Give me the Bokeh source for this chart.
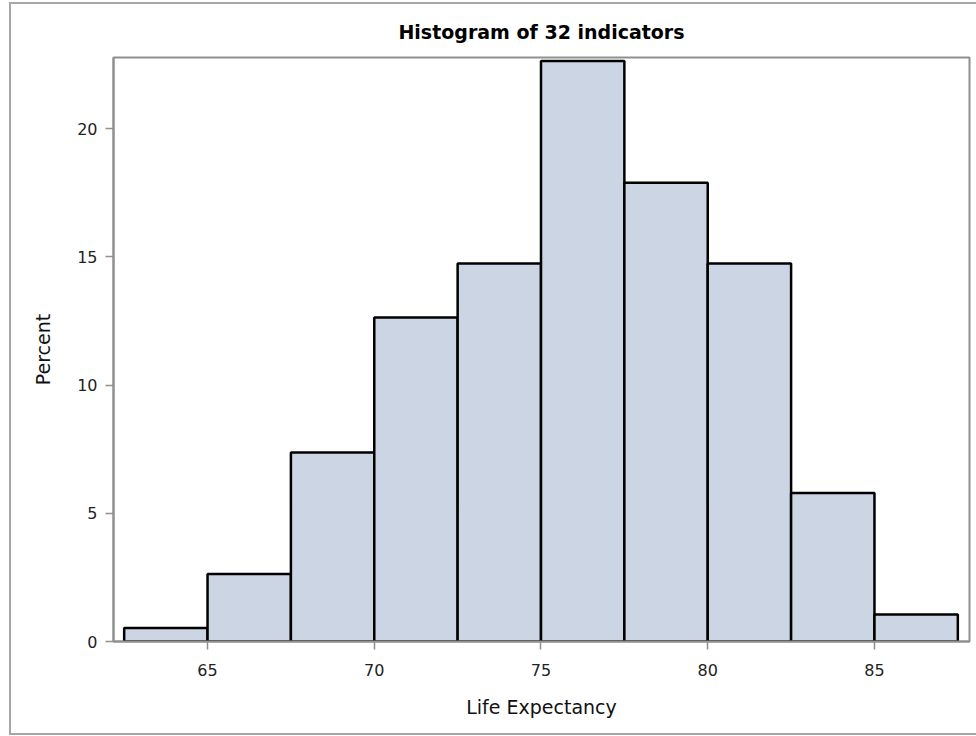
from bokeh.plotting import figure
from bokeh.models import FixedTicker, ColumnDataSource
from bokeh.embed import file_html
from bokeh.resources import INLINE

# Data: histogram of life expectancy (percent per 2.5-year bin)
bin_left = [62.5, 65.0, 67.5, 70.0, 72.5, 75.0, 77.5, 80.0, 82.5, 85.0]
bin_width = 2.5
percent = [0.53, 2.63, 7.37, 12.63, 14.74, 22.63, 17.89, 14.74, 5.79, 1.05]
x_ticks = [65, 70, 75, 80, 85]
y_ticks = [0, 5, 10, 15, 20]
title_text = "Histogram of 32 indicators"
x_label = "Life Expectancy"
y_label = "Percent"

src = ColumnDataSource(dict(
    left=bin_left,
    right=[b + bin_width for b in bin_left],
    top=percent,
    bottom=[0] * len(percent),
))

FONT = "DejaVu Sans"
GRAY = "#8f8f8f"
FRAME = "#a6a6a6"

p = figure(width=976, height=736, output_backend="svg", toolbar_location=None,
           x_range=(62.18, 87.85), y_range=(0, 22.77),
           min_border_left=113, min_border_right=7, min_border_top=57,
           min_border_bottom=95, title=title_text)

p.quad(left="left", right="right", top="top", bottom="bottom", source=src,
       fill_color="#CBD5E4", line_color="black", line_width=2.5)

p.title.align = "center"
p.title.text_font = FONT
p.title.text_font_size = "19px"
p.title.text_font_style = "bold"
p.title.text_color = "black"
p.title.standoff = 30
p.title.offset = -6

p.xgrid.visible = False
p.ygrid.visible = False
p.outline_line_color = GRAY
p.outline_line_width = 2
p.background_fill_color = "white"
p.border_fill_color = None
p.styles = {
    "background-color": "white",
    "background-image": ("linear-gradient(%s,%s), linear-gradient(%s,%s), "
                         "linear-gradient(%s,%s)") % ((FRAME,) * 6),
    "background-position": "9px 2px, 9px 2px, 9px 733px",
    "background-size": "2px 733px, 967px 2px, 967px 2px",
    "background-repeat": "no-repeat",
}

for ax in (p.xaxis[0], p.yaxis[0]):
    ax.axis_line_color = GRAY
    ax.axis_line_width = 2
    ax.major_tick_line_color = GRAY
    ax.major_tick_line_width = 1.5
    ax.major_tick_in = 0
    ax.major_tick_out = 8
    ax.minor_tick_line_color = None
    ax.major_label_text_font = FONT
    ax.major_label_text_font_size = "16px"
    ax.major_label_text_color = "#222222"
    ax.axis_label_text_font = FONT
    ax.axis_label_text_font_size = "19px"
    ax.axis_label_text_font_style = "normal"
    ax.axis_label_text_color = "#111111"

p.xaxis[0].ticker = FixedTicker(ticks=x_ticks)
p.yaxis[0].ticker = FixedTicker(ticks=y_ticks)
p.xaxis[0].axis_label = x_label
p.yaxis[0].axis_label = y_label
p.xaxis[0].major_label_standoff = 14
p.xaxis[0].axis_label_standoff = 17
p.yaxis[0].major_label_standoff = 8
p.yaxis[0].axis_label_standoff = 20

open("out.html", "w").write(file_html(p, INLINE))
